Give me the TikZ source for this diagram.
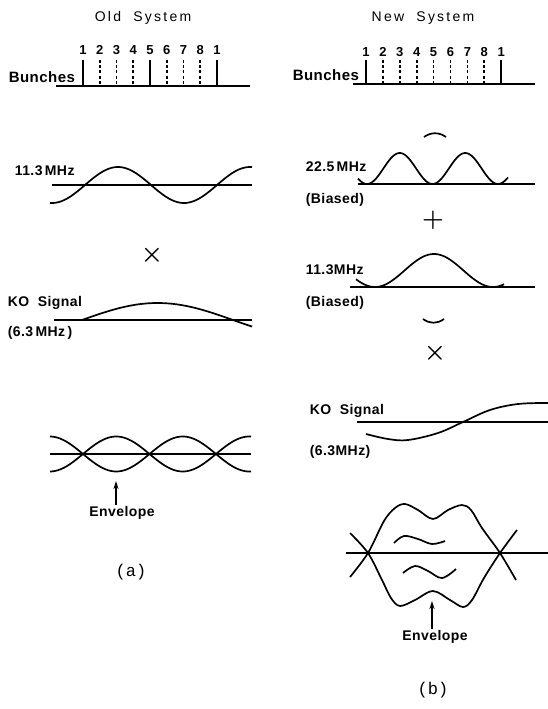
\documentclass[tikz,border=0pt]{standalone}
\usepackage{amsmath}
\usepackage{fontspec}
\newfontfamily\labfont{Liberation Sans}[LetterSpace=3]
\newfontfamily\titlefont{Liberation Sans}[LetterSpace=16]
\newfontfamily\capfont{Liberation Mono}
\usetikzlibrary{arrows.meta}

\begin{document}
\begin{tikzpicture}[x=1pt, y=-1pt, line width=1.7pt, >={Stealth[length=8pt,width=5pt]},
  lab/.style={font=\labfont\bfseries\fontsize{14}{16}\selectfont, inner sep=1pt},
  bun/.style={font=\labfont\bfseries\fontsize{15}{17}\selectfont, inner sep=1pt},
  num/.style={font=\labfont\bfseries\fontsize{13}{15}\selectfont, inner sep=1pt},
  ttl/.style={font=\titlefont\fontsize{14}{16}\selectfont},
  captxt/.style={font=\capfont\fontsize{17}{19}\selectfont},
  op/.style={inner sep=0pt, font={\fontsize{30}{30}\selectfont\boldmath}},
  stick/.style={line width=1.7pt},
  dstick/.style={stick, dash pattern=on 3pt off 2.2pt},
  sig/.style={line width=1.7pt, line join=round}]

\useasboundingbox (0,0) rectangle (548,709);

% titles
\node[ttl] (oldt) at (143,18) {Old\ \ System};
\node[ttl] (newt) at (423,18) {New\ \ System};

% bunches, old system
\node[bun, anchor=west] (buna) at (7,77) {Bunches};
\draw (56,86) -- (250,86);
\foreach \lbl/\i/\ds in {1/0/stick,2/1/dstick,3/2/dstick,4/3/dstick,5/4/stick,6/5/dstick,7/6/dstick,8/7/dstick,1/8/stick}{
  \node[num] (oa\i) at ({83+16.75*\i},50) {\lbl};
  \draw[\ds] ({83+16.75*\i},60) -- ({83+16.75*\i},86);
}

% bunches, new system
\node[bun, anchor=west] (bunb) at (291,75) {Bunches};
\draw (353,84) -- (535,84);
\foreach \lbl/\i/\ds in {1/0/stick,2/1/dstick,3/2/dstick,4/3/dstick,5/4/dstick,6/5/dstick,7/6/dstick,8/7/dstick,1/8/stick}{
  \node[num] (ob\i) at ({366+16.9*\i},52) {\lbl};
  \draw[\ds] ({366+16.9*\i},60) -- ({366+16.9*\i},84);
}

% (a) 11.3 MHz
\node[lab, anchor=west] (fa) at (13,171) {11.3\,MHz};
\draw (52,185) -- (252,185);
\draw[sig] plot[domain=50:252, samples=90] (\x, {185-18*sin(360/132*(\x-85))});
\node[op, font={\fontsize{28}{28}\selectfont\boldmath}] (mula) at (152,255) {$\times$};

% (a) KO signal
\node[lab, anchor=west] (koa) at (6,303) {KO\ \ Signal};
\node[lab, anchor=west] (kofa) at (6,333) {(6.3\,MHz\,)};
\draw (54,320) -- (252,320);
\draw[sig] plot[domain=82:252, samples=70] (\x, {320-17*sin(360/302*(\x-82))});

% (a) envelope
\draw (50,454) -- (251,454);
\draw[sig] plot[domain=50:251, samples=100] (\x, {454-17.5*sin(360/133*(\x-83))});
\draw[sig] plot[domain=50:251, samples=100] (\x, {454+17.5*sin(360/133*(\x-83))});
\coordinate (tipa) at (116,481);
\node[lab] (enva) at (122,513) {Envelope};
\draw[->] (tipa |- enva.north) -- (tipa);
\node[captxt] (capa) at (131,572) {(a)};

% (b) 22.5 MHz biased
\draw[sig] (424,137) .. controls (431,132) and (439,132) .. (446,137);
\node[lab, anchor=west] (fb) at (304,167) {22.5\,MHz};
\node[lab, anchor=west] (fbb) at (304,200) {(Biased)};
\draw (358,184) -- (535,184);
\draw[sig] plot[domain=358:508, samples=100] (\x, {184-15.5*(1-cos(360/65.5*(\x-367)))});
\node[op] (plusb) at (433,220) {$+$};

% (b) 11.3 MHz biased
\node[lab, anchor=west] (gb) at (304,270) {11.3MHz};
\node[lab, anchor=west] (gbb) at (304,303) {(Biased)};
\draw (350,287) -- (535,287);
\draw[sig] plot[domain=356:504, samples=90] (\x, {287-16.5*(1-cos(360/118*(\x-375)))});
\draw[sig] (423,319) .. controls (430,324) and (437,324) .. (444,319);
\node[op, font={\fontsize{32}{32}\selectfont\boldmath}] (mulb) at (435,353) {$\times$};

% (b) KO signal
\node[lab, anchor=west] (kob) at (308,411) {KO\ \ Signal};
\node[lab, anchor=west] (kofb) at (308,452) {(6.3MHz)};
\draw (357,422) -- (548,422);
\draw[sig] plot[smooth, tension=0.6] coordinates {(366,434) (388,439) (408,440) (438,433) (463,422) (490,410) (518,404) (548,403)};

% (b) envelope
\draw (346,553) -- (548,553);
\draw[sig] plot[smooth, tension=0.55] coordinates {(350,577) (368,553) (384,521) (395,508) (405,504) (418,510) (433,519) (448,510) (462,505) (471,510) (482,528) (500,553) (516,580)};
\draw[sig] plot[smooth, tension=0.55] coordinates {(350,533) (368,553) (382,580) (391,598) (400,606) (415,600) (433,591) (450,600) (463,607) (472,600) (484,578) (500,553) (517,530)};
\draw[sig] plot[smooth, tension=0.6] coordinates {(394,543) (404,536) (418,539) (432,544) (445,541)};
\draw[sig] plot[smooth, tension=0.6] coordinates {(403,573) (415,566) (428,571) (442,578) (456,569)};
\coordinate (tipb) at (432,601);
\node[lab] (envb) at (435,637) {Envelope};
\draw[->] (tipb |- envb.north) -- (tipb);
\node[captxt] (capb) at (433,690) {(b)};
\end{tikzpicture}
\end{document}
